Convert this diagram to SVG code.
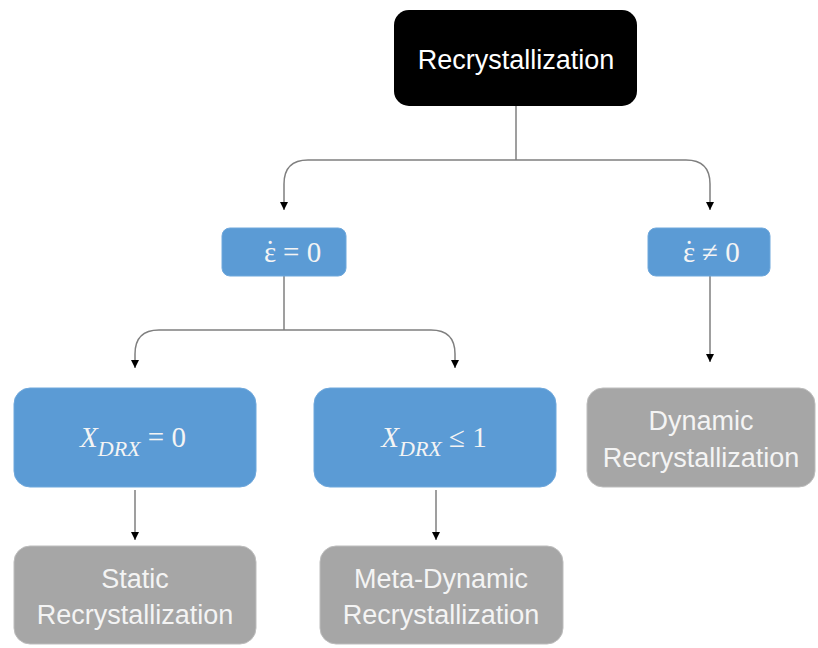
<svg xmlns="http://www.w3.org/2000/svg" width="818" height="648" viewBox="0 0 818 648">
<style>
.lbl{font-family:"Liberation Sans",Arial,sans-serif;font-size:27px;fill:#f4f4f4;text-anchor:middle}
.math{font-family:"Liberation Serif","DejaVu Serif",serif;font-size:29px;fill:#f4f4f4}
.blue{fill:#5b9bd5;stroke:#6fa8dc;stroke-width:1}
.grey{fill:#a6a6a6;stroke:#bdbdbd;stroke-width:1}
.con{fill:none;stroke:#7f7f7f;stroke-width:1.5}
</style>
<defs>
<marker id="ah" viewBox="0 0 10 10" refX="10" refY="5" markerWidth="8" markerHeight="8" markerUnits="userSpaceOnUse" orient="auto">
<path d="M0,0 L10,5 L0,10 Z" fill="#000"/>
</marker>
</defs>
<rect width="818" height="648" fill="#fff"/>
<g id="connectors">
<path class="con" d="M516,106 V160"/>
<path class="con" d="M516,160 H308 Q284,160 284,184 V210" marker-end="url(#ah)"/>
<path class="con" d="M516,160 H686 Q710,160 710,184 V210" marker-end="url(#ah)"/>
<path class="con" d="M284,276 V330"/>
<path class="con" d="M284,330 H159 Q135,330 135,354 V368" marker-end="url(#ah)"/>
<path class="con" d="M284,330 H431 Q455,330 455,354 V368" marker-end="url(#ah)"/>
<path class="con" d="M710,276 V362" marker-end="url(#ah)"/>
<path class="con" d="M135,490 V540" marker-end="url(#ah)"/>
<path class="con" d="M436,490 V540" marker-end="url(#ah)"/>
</g>
<g id="n-recryst">
<rect x="394" y="10" width="243" height="96" rx="15" fill="#000"/>
<text class="lbl" x="516" y="69" style="fill:#fff">Recrystallization</text>
</g>
<g id="n-eps0">
<rect class="blue" x="222" y="228" width="124" height="48" rx="8"/>
<text class="math" x="264" y="262">ε<tspan dx="-11" dy="-1">˙</tspan><tspan dx="1" dy="1"> = 0</tspan></text>
</g>
<g id="n-epsne0">
<rect class="blue" x="648" y="228" width="122" height="48" rx="8"/>
<text class="math" x="683" y="262">ε<tspan dx="-11" dy="-1">˙</tspan><tspan dx="1" dy="1"> ≠ 0</tspan></text>
</g>
<g id="n-xdrx0">
<rect class="blue" x="14" y="388" width="242" height="99" rx="16"/>
<text class="math" x="133" y="447" text-anchor="middle"><tspan font-style="italic">X</tspan><tspan font-style="italic" font-size="22" dy="9">DRX</tspan><tspan dy="-9"> = 0</tspan></text>
</g>
<g id="n-xdrx1">
<rect class="blue" x="314" y="388" width="242" height="99" rx="16"/>
<text class="math" x="434" y="447" text-anchor="middle"><tspan font-style="italic">X</tspan><tspan font-style="italic" font-size="22" dy="9">DRX</tspan><tspan dy="-9"> ≤ 1</tspan></text>
</g>
<g id="n-dynamic">
<rect class="grey" x="587" y="388" width="228" height="99" rx="16"/>
<text class="lbl" x="701" y="430">Dynamic</text>
<text class="lbl" x="701" y="467">Recrystallization</text>
</g>
<g id="n-static">
<rect class="grey" x="14" y="546" width="242" height="98" rx="16"/>
<text class="lbl" x="135" y="588">Static</text>
<text class="lbl" x="135" y="624">Recrystallization</text>
</g>
<g id="n-meta">
<rect class="grey" x="320" y="546" width="243" height="98" rx="16"/>
<text class="lbl" x="441" y="588">Meta-Dynamic</text>
<text class="lbl" x="441" y="624">Recrystallization</text>
</g>
</svg>
